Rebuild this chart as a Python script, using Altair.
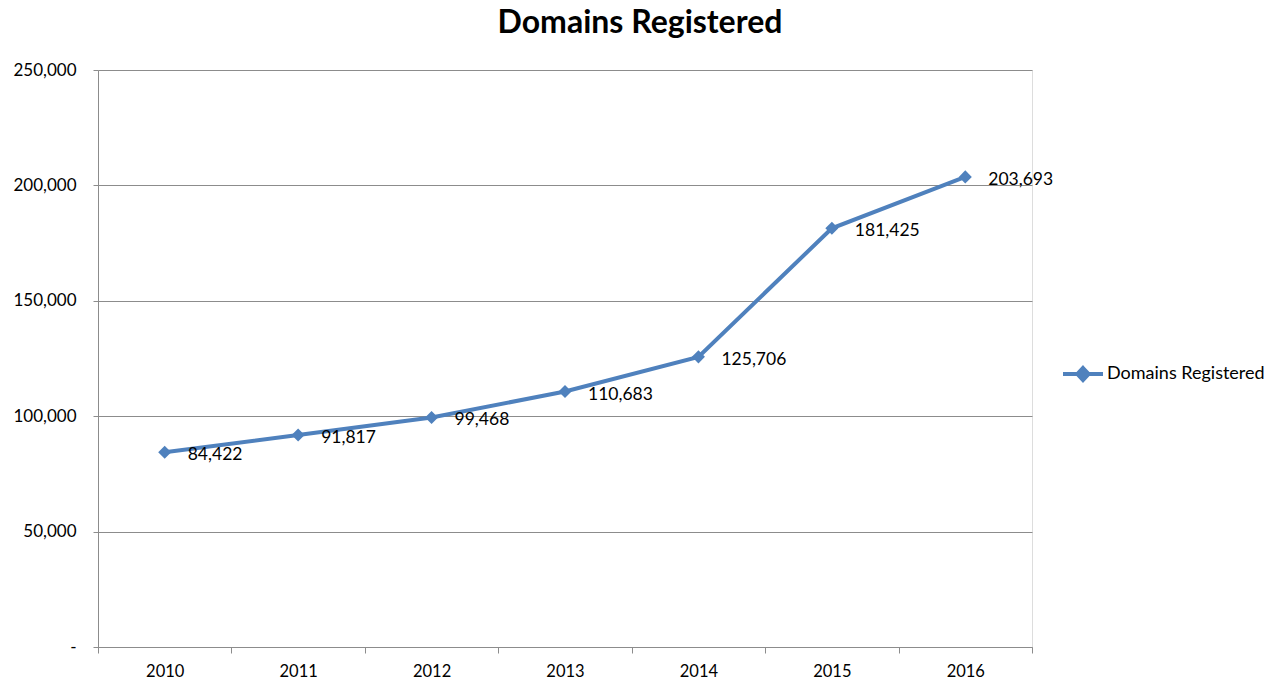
import altair as alt
import pandas as pd

years = ["2010", "2011", "2012", "2013", "2014", "2015", "2016"]
domains = [84422, 91817, 99468, 110683, 125706, 181425, 203693]
series_name = ["Domains Registered"] * len(years)
y_ticks = [0, 50000, 100000, 150000, 200000, 250000]

df = pd.DataFrame({"year": years, "value": domains, "series": series_name})

FONT = "Lato"
BLUE = "#4F81BD"
GRID = "#8C8C8C"

x_enc = alt.X(
    "year:O",
    bandPosition=0.5,
    scale=alt.Scale(type="band", paddingInner=0, paddingOuter=0),
    axis=alt.Axis(
        title=None, labelAngle=0, tickBand="extent", tickSize=6, tickColor=GRID,
        domainColor=GRID, labelFont=FONT, labelFontSize=16.5, labelColor="black",
        labelPadding=10, grid=False,
    ),
)
y_enc = alt.Y(
    "value:Q",
    scale=alt.Scale(domain=[0, 250000], nice=False, zero=True),
    axis=alt.Axis(
        title=None, values=y_ticks, grid=True, gridColor=GRID, gridWidth=1,
        domainColor=GRID, tickColor=GRID, tickSize=5, labelPadding=17,
        labelFont=FONT, labelFontSize=17, labelColor="black",
        labelExpr="datum.value == 0 ? '-\u00a0\u00a0\u00a0\u00a0\u00a0\u00a0' : format(datum.value, ',')",
    ),
)

legend_symbol = "M-1,0L1,0M0,-0.3L0.28,0L0,0.3L-0.28,0Z"

line = alt.Chart(df).mark_line(strokeWidth=4).encode(
    x=x_enc,
    y=y_enc,
    color=alt.Color(
        "series:N",
        scale=alt.Scale(domain=["Domains Registered"], range=[BLUE]),
        legend=alt.Legend(
            title=None, orient="none", legendX=963, legendY=282,
            symbolType=legend_symbol, symbolSize=1600, symbolStrokeWidth=4,
            symbolFillColor=BLUE, labelFont=FONT, labelFontSize=18,
            labelColor="black", labelOffset=2, padding=0,
        ),
    ),
)

points = alt.Chart(df).mark_point(shape="diamond", filled=True, size=170, opacity=1, color=BLUE).encode(
    x=x_enc, y=y_enc
)

labels = alt.Chart(df).mark_text(
    align="left", baseline="middle", dx=23, dy=3, font=FONT, fontSize=17.5, color="black"
).encode(
    x=x_enc, y=y_enc, text=alt.Text("value:Q", format=",")
)

chart = alt.layer(line, points, labels).properties(
    width=934,
    height=577,
    title=alt.TitleParams(
        "Domains Registered", font=FONT, fontSize=32, fontWeight="bold", color="black",
        anchor="middle", dx=75, offset=21,
    ),
    autosize=alt.AutoSizeParams(type="none"),
    padding={"left": 98, "top": 70, "right": 238, "bottom": 37},
).configure_view(stroke=None).configure(background="white")

chart.save("out.html", embed_options={"renderer": "svg", "actions": False})
